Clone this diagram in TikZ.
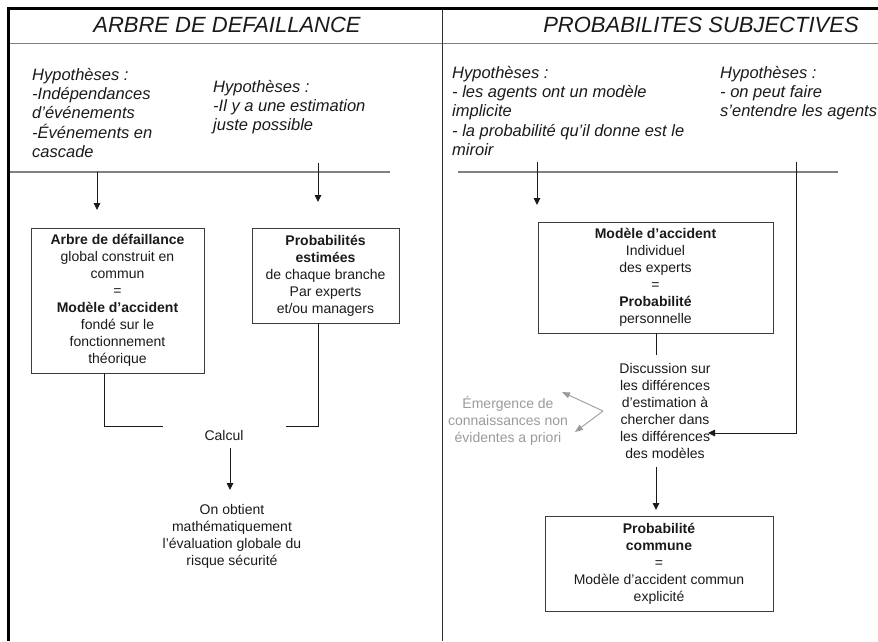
\documentclass[tikz,border=0pt]{standalone}
\usepackage{fontspec}
\setmainfont{Liberation Sans}
\usetikzlibrary{arrows.meta}
\definecolor{ink}{HTML}{1A1A1A}
\definecolor{rule}{HTML}{808080}
\definecolor{soft}{HTML}{9A9A9A}
\tikzset{
  titletext/.style={font=\fontsize{22}{26}\selectfont\itshape, text=ink},
  hyptext/.style={font=\fontsize{16.5}{19.3}\selectfont\itshape, text=ink, align=left, anchor=north west, inner sep=0pt},
  bodytext/.style={font=\fontsize{14}{17}\selectfont, text=ink, align=center, inner sep=0pt},
  boxnode/.style={draw=ink!85, line width=0.9pt, bodytext},
  link/.style={draw=ink, line width=0.9pt},
  arr/.style={link, -{Triangle[length=7pt,width=6.5pt]}},
  softarr/.style={draw=soft, line width=0.9pt, -{Triangle[length=8pt,width=6pt]}},
  hline/.style={draw=rule, line width=1.3pt},
}
\begin{document}
\begin{tikzpicture}[x=1pt,y=-1pt]
\useasboundingbox (0,0) rectangle (878,641);

% frame and panel rules
\draw[line width=3pt, black] (8.7,641) -- (8.7,8.5) -- (890,8.5);
\draw[hline] (10,43.7) -- (890,43.7);
\draw[draw=ink!90, line width=1.4pt] (442.5,10) -- (442.5,641);

% panel titles
\node[titletext] (t1) at (227,25) {ARBRE DE DEFAILLANCE};
\node[titletext] (t2) at (701,25) {PROBABILITES SUBJECTIVES};

% hypotheses
\node[hyptext] (h1) at (32,68) {Hypothèses :\\-Indépendances\\d’événements\\-Événements en\\cascade};
\node[hyptext] (h2) at (213,80) {Hypothèses :\\-Il y a une estimation\\juste possible};
\node[hyptext] (h3) at (452,66) {Hypothèses :\\- les agents ont un modèle\\implicite\\- la probabilité qu’il donne est le\\miroir};
\node[hyptext] (h4) at (720,66) {Hypothèses :\\- on peut faire\\s’entendre les agents};

% separating rules under the hypotheses
\draw[hline] (10,172) -- (390,172);
\draw[hline] (458,172) -- (838,172);

% left panel: fault tree
\node[boxnode, minimum width=173pt, minimum height=145pt] (b1) at (117.5,300.5)
  {\textbf{Arbre de défaillance}\\global construit en\\commun\\=\\\textbf{Modèle d’accident}\\fondé sur le\\fonctionnement\\théorique};
\node[boxnode, minimum width=147pt, minimum height=95pt] (b2) at (325.5,275.5)
  {\textbf{Probabilités}\\\textbf{estimées}\\de chaque branche\\Par experts\\et/ou managers};
\node[bodytext] (calc) at (224,435) {Calcul};
\node[bodytext] (res) at (232,536) {On obtient\\mathématiquement\\l’évaluation globale du\\risque sécurité};

\coordinate (a1s) at (97,172);  \coordinate (a1e) at (97,210);
\coordinate (a2s) at (318,163); \coordinate (a2e) at (318,202);
\coordinate (j1) at (163,426);  \coordinate (j2) at (286,426);
\coordinate (c1s) at (230,448); \coordinate (c1e) at (230,490);

\draw[arr] (a1s) -- (a1e);
\draw[arr] (a2s) -- (a2e);
\draw[link] (b1.south -| 104,0) -- (104,426) -- (j1);
\draw[link] (b2.south -| 318,0) -- (318,426) -- (j2);
\draw[arr] (c1s) -- (c1e);

% right panel: subjective probabilities
\node[boxnode, minimum width=235pt, minimum height=111pt] (b3) at (655.5,277.5)
  {\textbf{Modèle d’accident}\\Individuel\\des experts\\=\\\textbf{Probabilité}\\personnelle};
\node[bodytext] (disc) at (665,411) {Discussion sur\\les différences\\d’estimation à\\chercher dans\\les différences\\des modèles};
\node[bodytext, text=soft] (emerg) at (508,421) {Émergence de\\connaissances non\\évidentes a priori};
\node[boxnode, minimum width=228pt, minimum height=95pt] (b4) at (659,563.5)
  {\textbf{Probabilité}\\\textbf{commune}\\=\\Modèle d’accident commun\\explicité};

\coordinate (a3s) at (537,162); \coordinate (a3e) at (537,205);
\coordinate (fbs) at (796,162); \coordinate (fbe) at (708,433);
\coordinate (d0) at (656,355);
\coordinate (d1s) at (656,467); \coordinate (d1e) at (656,510);
\coordinate (fork) at (603,411);
\coordinate (g1) at (562,392);  \coordinate (g2) at (575,432);

\draw[arr] (a3s) -- (a3e);
\draw[arr] (fbs) -- (796,433) -- (fbe);
\draw[link] (b3.south -| d0) -- (d0);
\draw[arr] (d1s) -- (d1e);
\draw[softarr] (fork) -- (g1);
\draw[softarr] (fork) -- (g2);
\end{tikzpicture}
\end{document}
